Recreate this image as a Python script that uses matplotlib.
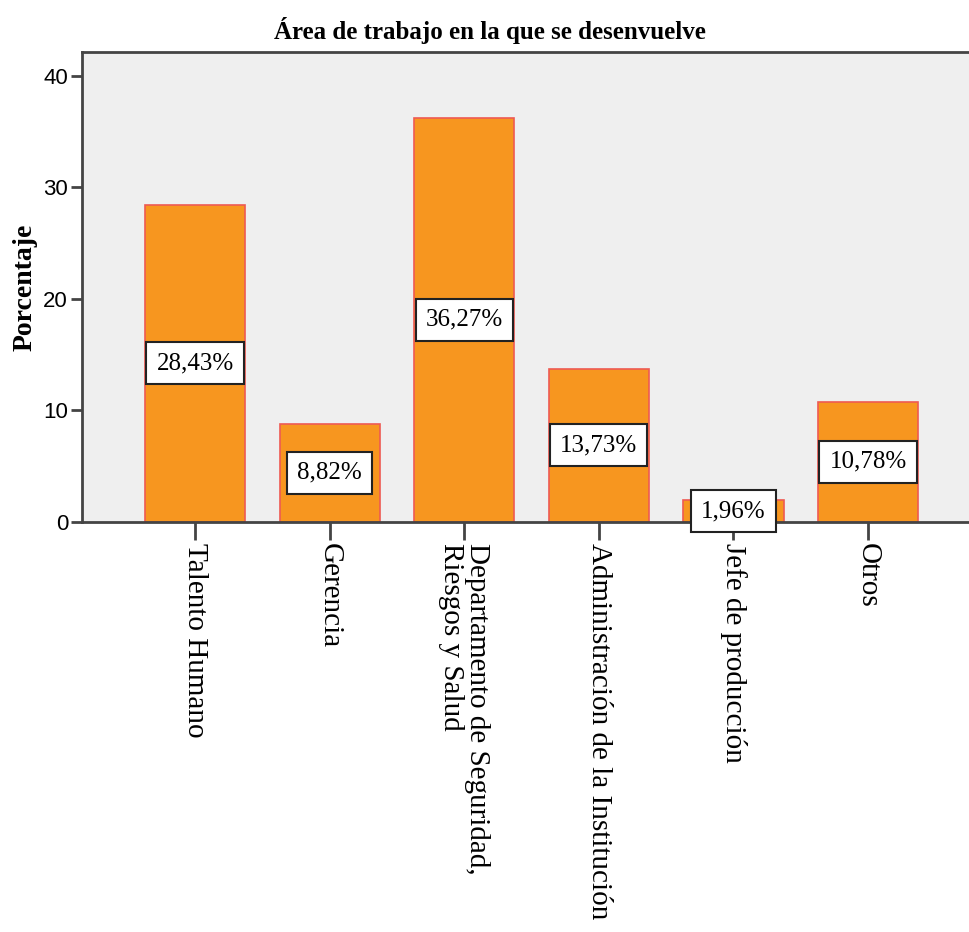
import numpy as np
import matplotlib
matplotlib.use("Agg")
import matplotlib.pyplot as plt

# Data
categories = ["Talento Humano", "Gerencia", "Departamento de Seguridad,\nRiesgos y Salud",
              "Administración de la Institución", "Jefe de producción", "Otros"]
percentages = [28.43, 8.82, 36.27, 13.73, 1.96, 10.78]
value_labels = ["28,43%", "8,82%", "36,27%", "13,73%", "1,96%", "10,78%"]
y_ticks = [0, 10, 20, 30, 40]

BAR_COLOR = "#F7961F"
EDGE_COLOR = "#EE5A52"
BG_COLOR = "#EFEFEF"
SPINE_COLOR = "#444444"


def plot_bars(output_path):
    fig = plt.figure(figsize=(9.69, 9.32), dpi=100)
    ax = fig.add_axes([82 / 969, 1 - 522 / 932, 1.0, 470 / 932])
    ax.set_facecolor(BG_COLOR)

    x = np.arange(len(categories))
    ax.bar(x, percentages, width=0.745, color=BAR_COLOR, edgecolor=EDGE_COLOR,
           linewidth=1.2, zorder=2)

    # Value labels boxed in the middle of each bar
    for xi, val, lab in zip(x, percentages, value_labels):
        ax.text(xi, val / 2.0, lab, ha="center", va="center", fontsize=18,
                family="Liberation Serif", zorder=5,
                bbox=dict(boxstyle="square,pad=0.4", facecolor="white",
                          edgecolor="#222222", linewidth=1.5))

    ax.set_xlim(-0.84, -0.84 + 969 / 134.6)
    ax.set_ylim(0, 42.15)

    ax.set_yticks(y_ticks)
    ax.set_yticklabels([str(t) for t in y_ticks], family="Liberation Sans", fontsize=16)
    ax.set_xticks(x)
    ax.set_xticklabels(categories, rotation=270, ha="center", va="top",
                       family="Liberation Serif", fontsize=21, multialignment="left",
                       linespacing=1.0)

    ax.tick_params(axis="y", direction="out", length=8, width=2, color=SPINE_COLOR, pad=2)
    ax.tick_params(axis="x", direction="out", length=13, width=2, color=SPINE_COLOR, pad=2)

    for side in ["left", "top", "bottom"]:
        ax.spines[side].set_color(SPINE_COLOR)
        ax.spines[side].set_linewidth(2)
    ax.spines["right"].set_visible(False)
    ax.spines["bottom"].set_zorder(3)

    fig.text(490 / 969, 1 - 30 / 932, "Área de trabajo en la que se desenvuelve",
             ha="center", va="center", fontsize=18, fontweight="bold",
             family="Liberation Serif")
    fig.text(25 / 969, 1 - 287 / 932, "Porcentaje", ha="center", va="center",
             rotation=90, fontsize=20, fontweight="bold", family="Liberation Serif")

    fig.savefig(output_path, dpi=100, facecolor="white")


if __name__ == "__main__":
    plot_bars("out.png")
